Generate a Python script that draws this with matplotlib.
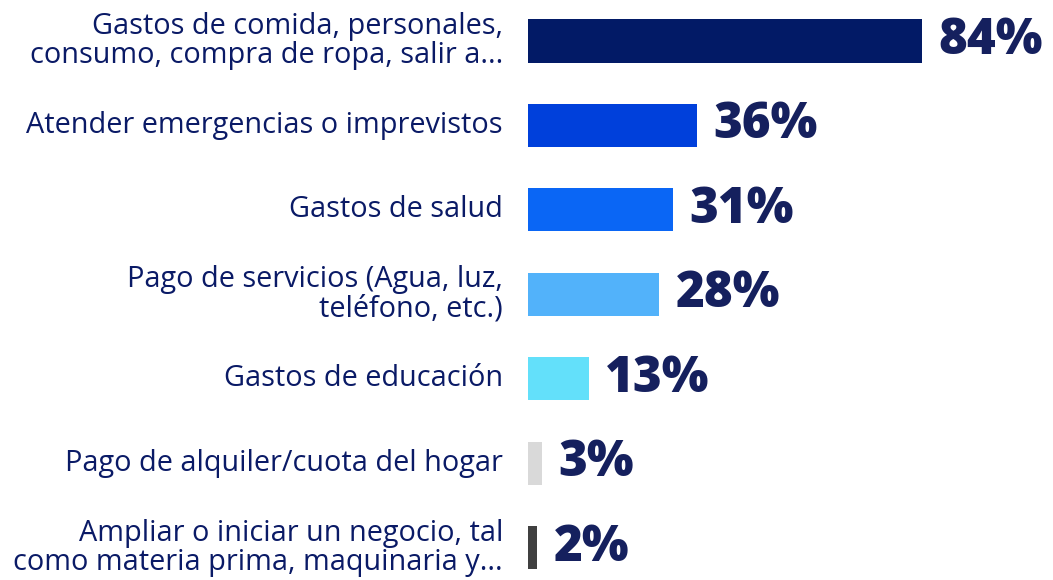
"""
Horizontal bar chart: uso del dinero
"""
import matplotlib.pyplot as plt

categories = [
    "Gastos de comida, personales,\nconsumo, compra de ropa, salir a...",
    "Atender emergencias o imprevistos",
    "Gastos de salud",
    "Pago de servicios (Agua, luz,\nteléfono, etc.)",
    "Gastos de educación",
    "Pago de alquiler/cuota del hogar",
    "Ampliar o iniciar un negocio, tal\ncomo materia prima, maquinaria y...",
]
values = [84, 36, 31, 28, 13, 3, 2]
value_labels = ["84%", "36%", "31%", "28%", "13%", "3%", "2%"]
bar_colors = ["#021A66", "#0040DB", "#0A66F5", "#52B2FA", "#63E0FA", "#D9D9D9", "#404040"]

text_color = "#0A1A66"

plt.rcParams["font.family"] = ["Open Sans", "DejaVu Sans"]

fig = plt.figure(figsize=(10.53, 5.8), dpi=100)
ax = fig.add_axes([528 / 1053, 0, 1 - 528 / 1053, 1])

pos = list(range(len(values)))
ax.barh(pos, values, height=0.51, color=bar_colors)

ax.set_xlim(0, 112)
ax.set_ylim(6.38, -0.485)

for y, v, lab in zip(pos, values, value_labels):
    ax.text(v + 3.5, y, lab, va="center", ha="left", fontsize=35.5,
            fontweight="heavy", color="#15205E")

for y, cat in zip(pos, categories):
    ax.annotate(cat, xy=(0, y), xycoords=("axes fraction", "data"),
                xytext=(-25, 0), textcoords="offset pixels",
                ha="right", va="center", fontsize=20.8, color=text_color,
                linespacing=1.0)

ax.axis("off")

fig.savefig("out.png", dpi=100)
